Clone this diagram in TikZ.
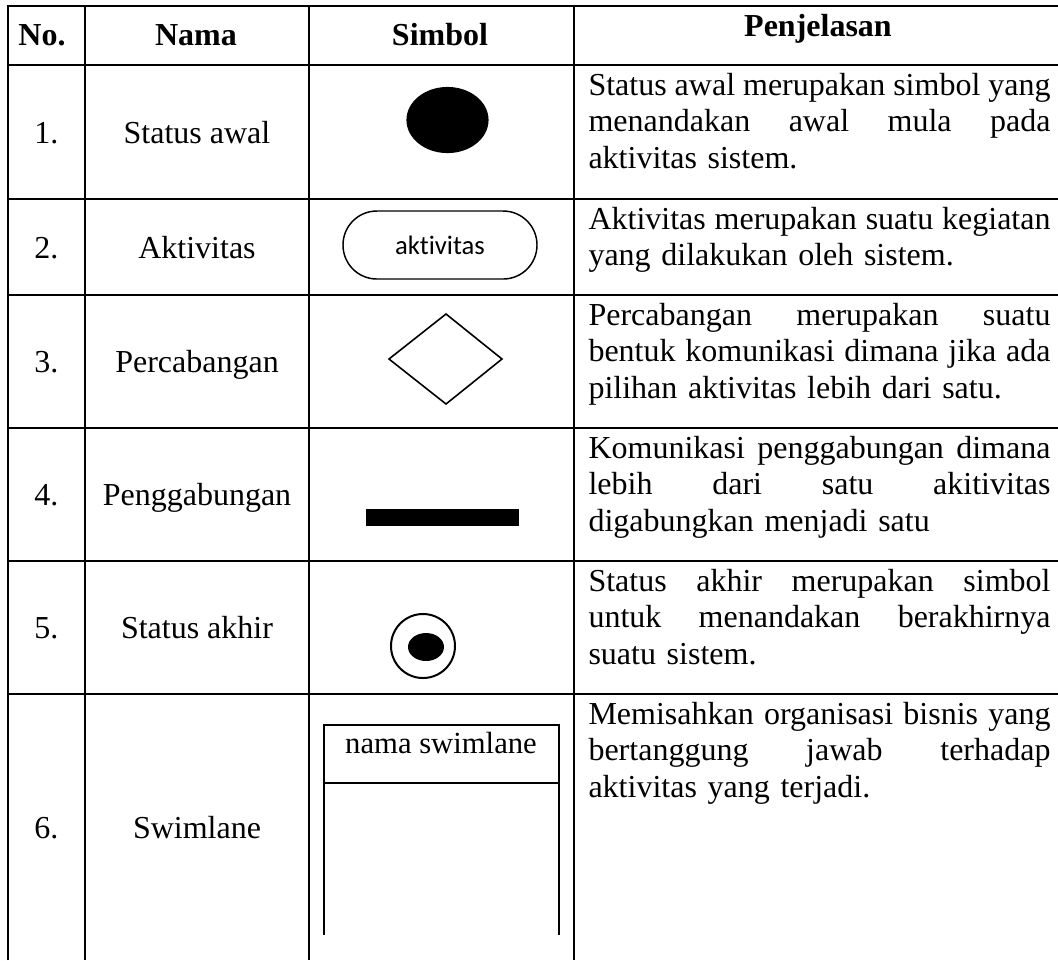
\documentclass[tikz,border=0pt]{standalone}
\usepackage{fontspec}
\setmainfont{Liberation Serif}
\newfontfamily\calibri[Ligatures=NoCommon]{Carlito}
\usepackage{xcolor}
\usepackage{tikz}
\usetikzlibrary{positioning}
\definecolor{ink}{HTML}{000000}
\newcommand{\jline}[1]{{\spaceskip=0pt\xspaceskip=0pt\makebox[173.25pt][s]{#1}}}

\begin{document}
\begin{tikzpicture}[
  x=0.375pt,y=-0.375pt,
  font=\fontsize{12}{13.7}\selectfont,
  grid/.style={draw=ink,line width=0.8pt},
  hdr/.style={anchor=base,inner sep=0pt,font=\fontsize{12}{13.7}\selectfont\bfseries},
  cell/.style={anchor=base,inner sep=0pt},
  desc/.style={anchor=base west,inner sep=0pt,text width=173.25pt},
  sym/.style={draw=ink,line width=0.55pt},
  pill/.style={draw=ink,line width=0.55pt,rounded corners=12.7pt,minimum width=72.75pt,minimum height=25.5pt,inner sep=0pt,font=\calibri\fontsize{10}{12}\selectfont}
]
\useasboundingbox (0,0) rectangle (1058,960);
\draw[grid] (8,960) -- (8,6) -- (1058,6);
\foreach \y in {65,199,295,428,561,694} \draw[grid] (8,\y) -- (1058,\y);
\foreach \x in {85,309,574} \draw[grid] (\x,6) -- (\x,960);
\node[hdr] (hno) at (42,45) {No.};
\node[hdr] (hnama) at (196,45) {Nama};
\node[hdr] (hsimbol) at (440,45) {Simbol};
\node[hdr] (hpenj) at (818,36) {Penjelasan};
\foreach \n/\nm/\yb in {1/Status awal/143,2/Aktivitas/258,3/Percabangan/372,4/Penggabungan/505,5/Status akhir/638,6/Swimlane/838} {
  \node[cell] (no\n) at (46.5,\yb) {\n.};
  \node[cell] (nama\n) at (197,\yb) {\nm};
}
\fill[ink] (447.5,120) ellipse (15.4pt and 12.4pt);
\node[pill] (akt) at (440,245) {aktivitas};
\draw[sym,line width=0.6pt] (389,359) -- (446,314) -- (502,359) -- (446,404) -- cycle;
\fill[ink] (366,509) rectangle (519,526);
\draw[sym,line width=0.75pt] (423,646) circle (12pt);
\fill[ink] (426,647) ellipse (6.75pt and 5.25pt);
\draw[grid] (324,935) -- (324,725) -- (559,725) -- (559,935);
\draw[grid] (324,783) -- (559,783);
\node[cell,font=\fontsize{11.5}{13}\selectfont] (swim) at (441,753) {nama swimlane};
\node[desc] (d1) at (588,95) {\jline{Status awal merupakan simbol yang}\\\jline{menandakan awal mula pada}\\aktivitas sistem.};
\node[desc] (d2) at (588,229) {\jline{Aktivitas merupakan suatu kegiatan}\\yang dilakukan oleh sistem.};
\node[desc] (d3) at (588,325) {\jline{Percabangan merupakan suatu}\\\jline{bentuk komunikasi dimana jika ada}\\pilihan aktivitas lebih dari satu.};
\node[desc] (d4) at (588,458) {\jline{Komunikasi penggabungan dimana}\\\jline{lebih dari satu akitivitas}\\digabungkan menjadi satu};
\node[desc] (d5) at (588,591) {\jline{Status akhir merupakan simbol}\\\jline{untuk menandakan berakhirnya}\\suatu sistem.};
\node[desc] (d6) at (588,724) {\jline{Memisahkan organisasi bisnis yang}\\\jline{bertanggung jawab terhadap}\\aktivitas yang terjadi.};
\end{tikzpicture}
\end{document}
